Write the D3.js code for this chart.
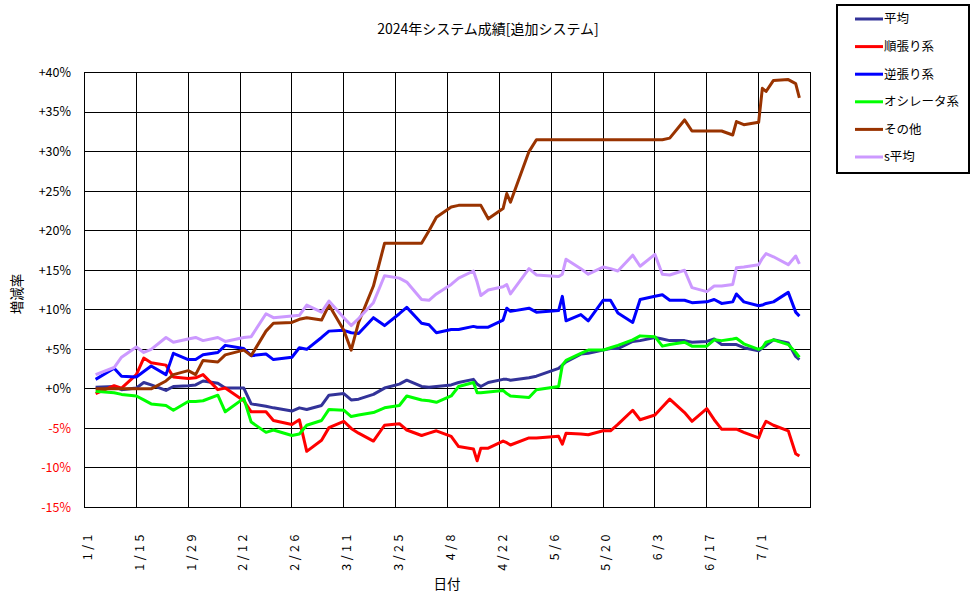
<!DOCTYPE html>
<html>
<head>
<meta charset="utf-8">
<script src="https://cdn.jsdelivr.net/npm/d3@7"></script>
<style>
    body { margin: 0; background: #fff; }
    text { font-family: "Noto Sans CJK JP", "DejaVu Sans", sans-serif; fill: #000; }
</style>
</head>
<body>
<svg id="chart" width="976" height="599"></svg>
<script>
// sampled trading days (2024)
const dates = [
    "1/4", "1/9", "1/11", "1/15", "1/17", "1/19", "1/23", "1/25", "1/29", "1/31",
    "2/2", "2/6", "2/8", "2/13", "2/15", "2/19", "2/21", "2/26", "2/28",
    "3/1", "3/5", "3/7", "3/11", "3/13", "3/15", "3/19", "3/22", "3/26", "3/28",
    "4/1", "4/3", "4/5", "4/9", "4/11", "4/15", "4/16", "4/17", "4/19", "4/23", "4/24", "4/25", "4/30",
    "5/2", "5/8", "5/9", "5/10", "5/14", "5/16", "5/20", "5/22", "5/24", "5/28", "5/30",
    "6/3", "6/5", "6/7", "6/11", "6/13", "6/17", "6/19", "6/21", "6/24", "6/25", "6/27",
    "7/1", "7/2", "7/3", "7/5", "7/9", "7/11", "7/12"
];

const heikin = [
    0.2, 0.3, -0.1, 0.1, 0.8, 0.5, -0.2, 0.3, 0.4, 0.5,
    1.0, 0.7, 0.1, 0.1, -1.9, -2.2, -2.4, -2.8, -2.4,
    -2.6, -2.1, -0.8, -0.6, -1.4, -1.3, -0.7, 0.1, 0.6, 1.1,
    0.3, 0.2, 0.3, 0.5, 0.8, 1.2, 0.6, 0.3, 0.8, 1.2, 1.2, 1.1, 1.4,
    1.6, 2.6, 3.0, 3.4, 4.4, 4.5, 4.9, 5.1, 5.1, 6.0, 6.1,
    6.5, 6.3, 6.1, 6.1, 5.9, 6.0, 6.3, 5.6, 5.6, 5.6, 5.2,
    4.8, 5.2, 5.5, 6.2, 5.8, 4.1, 3.7
];

const junbari = [
    -0.6, 0.4, 0.1, 1.8, 3.9, 3.3, 3.0, 1.5, 1.3, 1.4,
    1.8, -0.1, 0.1, -1.5, -2.9, -2.9, -4.0, -4.5, -3.9,
    -7.9, -6.5, -4.9, -4.1, -5.0, -5.6, -6.6, -4.6, -4.4, -5.2,
    -5.9, -5.6, -5.3, -6.0, -7.3, -7.6, -9.1, -7.5, -7.5, -6.6, -6.8, -7.1, -6.2,
    -6.2, -6.0, -7.0, -5.6, -5.7, -5.8, -5.3, -5.3, -4.5, -2.7, -3.9,
    -3.3, -2.3, -1.3, -3.0, -4.1, -2.5, -3.9, -5.1, -5.1, -5.1, -5.5,
    -6.2, -5.0, -4.1, -4.6, -5.3, -8.2, -8.5
];

const gyakubari = [
    1.2, 2.6, 1.6, 1.5, 2.2, 2.9, 1.8, 4.5, 3.7, 3.7,
    4.3, 4.6, 5.5, 5.1, 4.2, 4.4, 3.7, 4.0, 5.2,
    5.0, 6.5, 7.3, 7.4, 7.1, 7.0, 9.0, 8.0, 9.5, 10.3,
    8.3, 8.1, 7.1, 7.5, 7.5, 7.9, 7.8, 7.8, 7.8, 8.7, 10.2, 9.8, 10.2,
    9.7, 9.9, 11.7, 8.6, 9.4, 8.6, 11.2, 11.2, 9.6, 8.4, 11.3,
    11.7, 11.9, 11.2, 11.2, 10.9, 11.0, 11.3, 10.8, 11.0, 12.0, 11.0,
    10.5, 10.6, 10.8, 11.0, 12.2, 9.7, 9.2
];

const oscillator = [
    -0.3, -0.5, -0.7, -0.9, -1.4, -1.9, -2.1, -2.7, -1.6, -1.6,
    -1.5, -0.8, -2.9, -1.2, -4.2, -5.5, -5.2, -5.9, -5.7,
    -4.6, -4.0, -2.6, -2.7, -3.5, -3.3, -3.0, -2.4, -2.1, -0.9,
    -1.4, -1.5, -1.7, -0.9, 0.3, 0.8, -0.5, -0.5, -0.4, -0.2, -0.6, -0.9, -1.1,
    -0.1, 0.3, 3.0, 3.6, 4.5, 4.9, 4.9, 5.2, 5.5, 6.2, 6.7,
    6.6, 5.4, 5.6, 5.9, 5.4, 5.4, 6.2, 6.1, 6.3, 6.4, 5.7,
    5.0, 5.2, 5.9, 6.2, 5.6, 4.6, 4.0
];

const sonota = [
    0, 0, 0, 0, 0, 0, 1.0, 1.8, 2.3, 1.8,
    3.6, 3.4, 4.3, 4.9, 4.2, 7.3, 8.3, 8.4, 8.8,
    9.0, 8.7, 10.6, 7.4, 4.9, 8.4, 13.0, 18.4, 18.4, 18.4,
    18.4, 20.0, 21.7, 23.0, 23.2, 23.2, 23.2, 23.2, 21.5, 22.8, 24.7, 23.6, 30.0,
    31.5, 31.5, 31.5, 31.5, 31.5, 31.5, 31.5, 31.5, 31.5, 31.5, 31.5,
    31.5, 31.5, 31.7, 34.0, 32.6, 32.6, 32.6, 32.6, 32.1, 33.8, 33.4,
    33.7, 38.0, 37.6, 39.0, 39.1, 38.6, 36.8
];

const sHeikin = [
    1.8, 2.7, 4.0, 5.3, 4.6, 5.0, 6.5, 5.9, 6.3, 6.5,
    6.1, 6.5, 6.0, 6.5, 6.6, 9.5, 9.0, 9.2, 9.3,
    10.6, 9.7, 11.1, 9.0, 8.0, 8.9, 10.9, 14.3, 14.0, 13.5,
    11.3, 11.2, 12.0, 13.2, 14.0, 14.9, 13.5, 11.8, 12.5, 12.9, 13.2, 12.0, 15.2,
    14.4, 14.2, 14.5, 16.4, 15.2, 14.5, 15.4, 15.2, 14.9, 16.9, 15.5,
    17.0, 14.5, 14.4, 15.0, 12.8, 12.3, 13.0, 13.0, 13.2, 15.3, 15.4,
    15.7, 16.5, 17.1, 16.7, 15.7, 16.8, 15.8
];

const seriesNames = ["平均", "順張り系", "逆張り系", "オシレータ系", "その他", "s平均"];
const seriesColors = ["#333399", "#ff0000", "#0000ff", "#00ff00", "#993300", "#cc99ff"];
const seriesValues = [heikin, junbari, gyakubari, oscillator, sonota, sHeikin];

const xTickLabels = ["1/1", "1/15", "1/29", "2/12", "2/26", "3/11", "3/25", "4/8", "4/22", "5/6", "5/20", "6/3", "6/17", "7/1"];
const yTicks = [-15, -10, -5, 0, 5, 10, 15, 20, 25, 30, 35, 40];

const parseDay = s => {
    const [m, d] = s.split("/").map(Number);
    return new Date(2024, m - 1, d);
};

const svg = d3.select("#chart");

const x = d3.scaleTime()
    .domain([new Date(2024, 0, 1), new Date(2024, 6, 15)])
    .range([84.5, 810.5]);

const y = d3.scaleLinear()
    .domain([-15, 40])
    .range([507.5, 72.5]);

const crisp = v => Math.round(v - 0.5) + 0.5;

// grid
const grid = svg.append("g");
grid.selectAll("line.h").data(yTicks).enter().append("line")
    .attr("x1", x.range()[0]).attr("x2", x.range()[1])
    .attr("y1", d => crisp(y(d))).attr("y2", d => crisp(y(d)))
    .attr("stroke", "#000").attr("stroke-width", 1);

grid.selectAll("line.v").data(xTickLabels).enter().append("line")
    .attr("x1", d => crisp(x(parseDay(d)))).attr("x2", d => crisp(x(parseDay(d))))
    .attr("y1", y.range()[1]).attr("y2", y.range()[0])
    .attr("stroke", "#000").attr("stroke-width", 1);

svg.append("rect")
    .attr("x", x.range()[0]).attr("y", y.range()[1])
    .attr("width", x.range()[1] - x.range()[0])
    .attr("height", y.range()[0] - y.range()[1])
    .attr("fill", "none").attr("stroke", "#000").attr("stroke-width", 1);

// y labels
svg.append("g").selectAll("text").data(yTicks).enter().append("text")
    .attr("x", 71).attr("y", d => y(d)).attr("dy", "0.35em")
    .attr("text-anchor", "end")
    .style("font-size", "12.5px")
    .style("fill", d => d < 0 ? "#ff0000" : "#000")
    .text(d => (d < 0 ? "-" : "+") + Math.abs(d) + "%");

// x labels (spaced out like the original bitmap font)
svg.append("g").selectAll("text").data(xTickLabels).enter().append("text")
    .attr("transform", d => "translate(" + (x(parseDay(d)) + 3) + ",531) rotate(-90)")
    .attr("dy", "0.35em")
    .attr("text-anchor", "end")
    .style("font-size", "12.5px")
    .style("letter-spacing", "3.5px")
    .text(d => d);

// titles
svg.append("text").attr("x", 488).attr("y", 34).attr("text-anchor", "middle")
    .style("font-size", "14px").text("2024年システム成績[追加システム]");
svg.append("text").attr("x", 447).attr("y", 589).attr("text-anchor", "middle")
    .style("font-size", "13.5px").text("日付");
svg.append("text").attr("transform", "translate(17,294) rotate(-90)")
    .attr("dy", "0.35em").attr("text-anchor", "middle")
    .style("font-size", "13.5px").text("増減率");

// lines
const line = d3.line()
    .x((d, i) => x(parseDay(dates[i])))
    .y(d => y(d));

seriesValues.forEach((vals, i) => {
    svg.append("path")
        .datum(vals)
        .attr("d", line)
        .attr("fill", "none")
        .attr("stroke", seriesColors[i])
        .attr("stroke-width", 3)
        .attr("stroke-linejoin", "round");
});

// legend
const legend = svg.append("g");
legend.append("rect")
    .attr("x", 837).attr("y", 5).attr("width", 132).attr("height", 168)
    .attr("fill", "#fff").attr("stroke", "#000").attr("stroke-width", 2);

const items = legend.selectAll("g.item").data(seriesNames).enter().append("g")
    .attr("transform", (d, i) => "translate(0," + (19 + i * 27.6) + ")");
items.append("line")
    .attr("x1", 855).attr("x2", 883).attr("y1", 0).attr("y2", 0)
    .attr("stroke", (d, i) => seriesColors[i]).attr("stroke-width", 3);
items.append("text")
    .attr("x", 884).attr("y", 0).attr("dy", "0.35em")
    .style("font-size", "12.5px")
    .text(d => d);
</script>
</body>
</html>
